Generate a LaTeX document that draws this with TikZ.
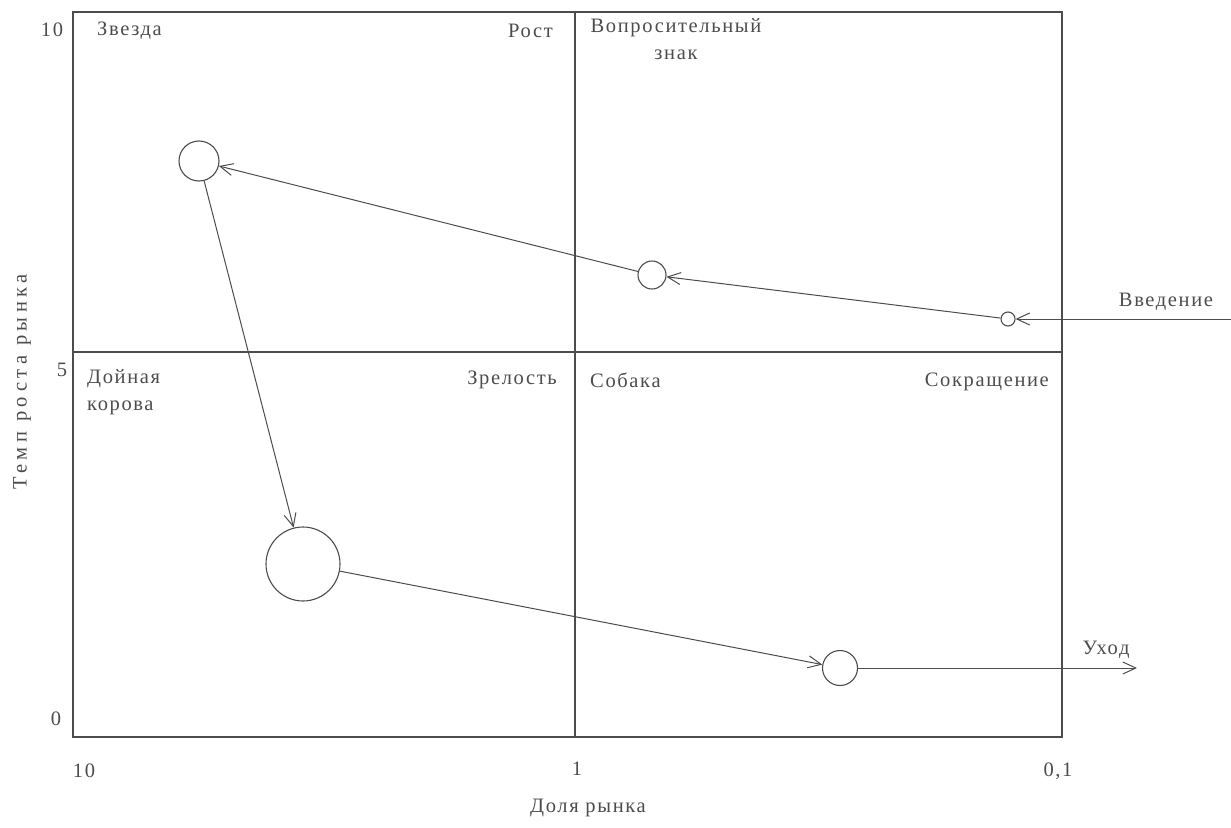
\documentclass[tikz,border=0pt]{standalone}
\usepackage{fontspec}
\setmainfont{Liberation Serif}[LetterSpace=8]
\usetikzlibrary{arrows.meta}
\definecolor{ink}{gray}{0.3}
\begin{document}
\begin{tikzpicture}[x=1pt,y=-1pt,
  every node/.style={text=ink,font=\fontsize{20.5}{27}\selectfont,inner sep=0pt},
  frameline/.style={draw=ink,line width=1.2pt},
  bubble/.style={circle,draw=ink,line width=1.1pt,inner sep=0pt},
  flow/.style={draw=ink,line width=1pt,-{Straight Barb[length=13pt,width=12pt]}}]
\path[use as bounding box] (0,0) rectangle (1231,827);
% frame and quadrant lines
\draw[frameline] (73,12) rectangle (1062,737);
\draw[frameline] (575,12) -- (575,737);
\draw[frameline] (73,352) -- (1062,352);
% axis numbers
\node (y10) at (52,30) {10};
\node (y5) at (62,370) {5};
\node (y0) at (56,719) {0};
\node (x10) at (84,771) {10};
\node (x1) at (577,769) {1};
\node (x01) at (1058,771) {0,1};
\node (xlab) at (588,808) {Доля рынка};
\node[rotate=90,font=\fontsize{20.5}{27}\selectfont\addfontfeatures{LetterSpace=22}] (ylab) at (22,382) {Темп роста рынка};
% quadrant labels
\node[anchor=west] (star_t) at (97,31) {Звезда};
\node[anchor=east] (growth) at (553,31) {Рост};
\node[anchor=north,align=center] (qm) at (676,18) {Вопросительный\\знак};
\node (intro_t) at (1166,302) {Введение};
\node[anchor=north west,align=left] (cow_t) at (87,369) {Дойная\\корова};
\node[anchor=east] (mature) at (557,380) {Зрелость};
\node[anchor=west] (dog_t) at (590,380) {Собака};
\node[anchor=east] (decline) at (1049,382) {Сокращение};
\node (exit_t) at (1106,650) {Уход};
% bubbles
\node[bubble,minimum size=40pt] (star) at (199,161) {};
\node[bubble,minimum size=74pt] (cow) at (303,564) {};
\node[bubble,minimum size=28pt] (q) at (652,275) {};
\node[bubble,minimum size=14pt] (intro) at (1008,319) {};
\node[bubble,minimum size=35pt] (dog) at (840,668) {};
\coordinate (start) at (1231,319);
\coordinate (finish) at (1137,668);
% flows
\draw[flow] (start) -- (intro);
\draw[flow] (intro) -- (q);
\draw[flow] (q) -- (star);
\draw[flow] (star) -- (cow);
\draw[flow] (cow) -- (dog);
\draw[flow] (dog) -- (finish);
\end{tikzpicture}
\end{document}
